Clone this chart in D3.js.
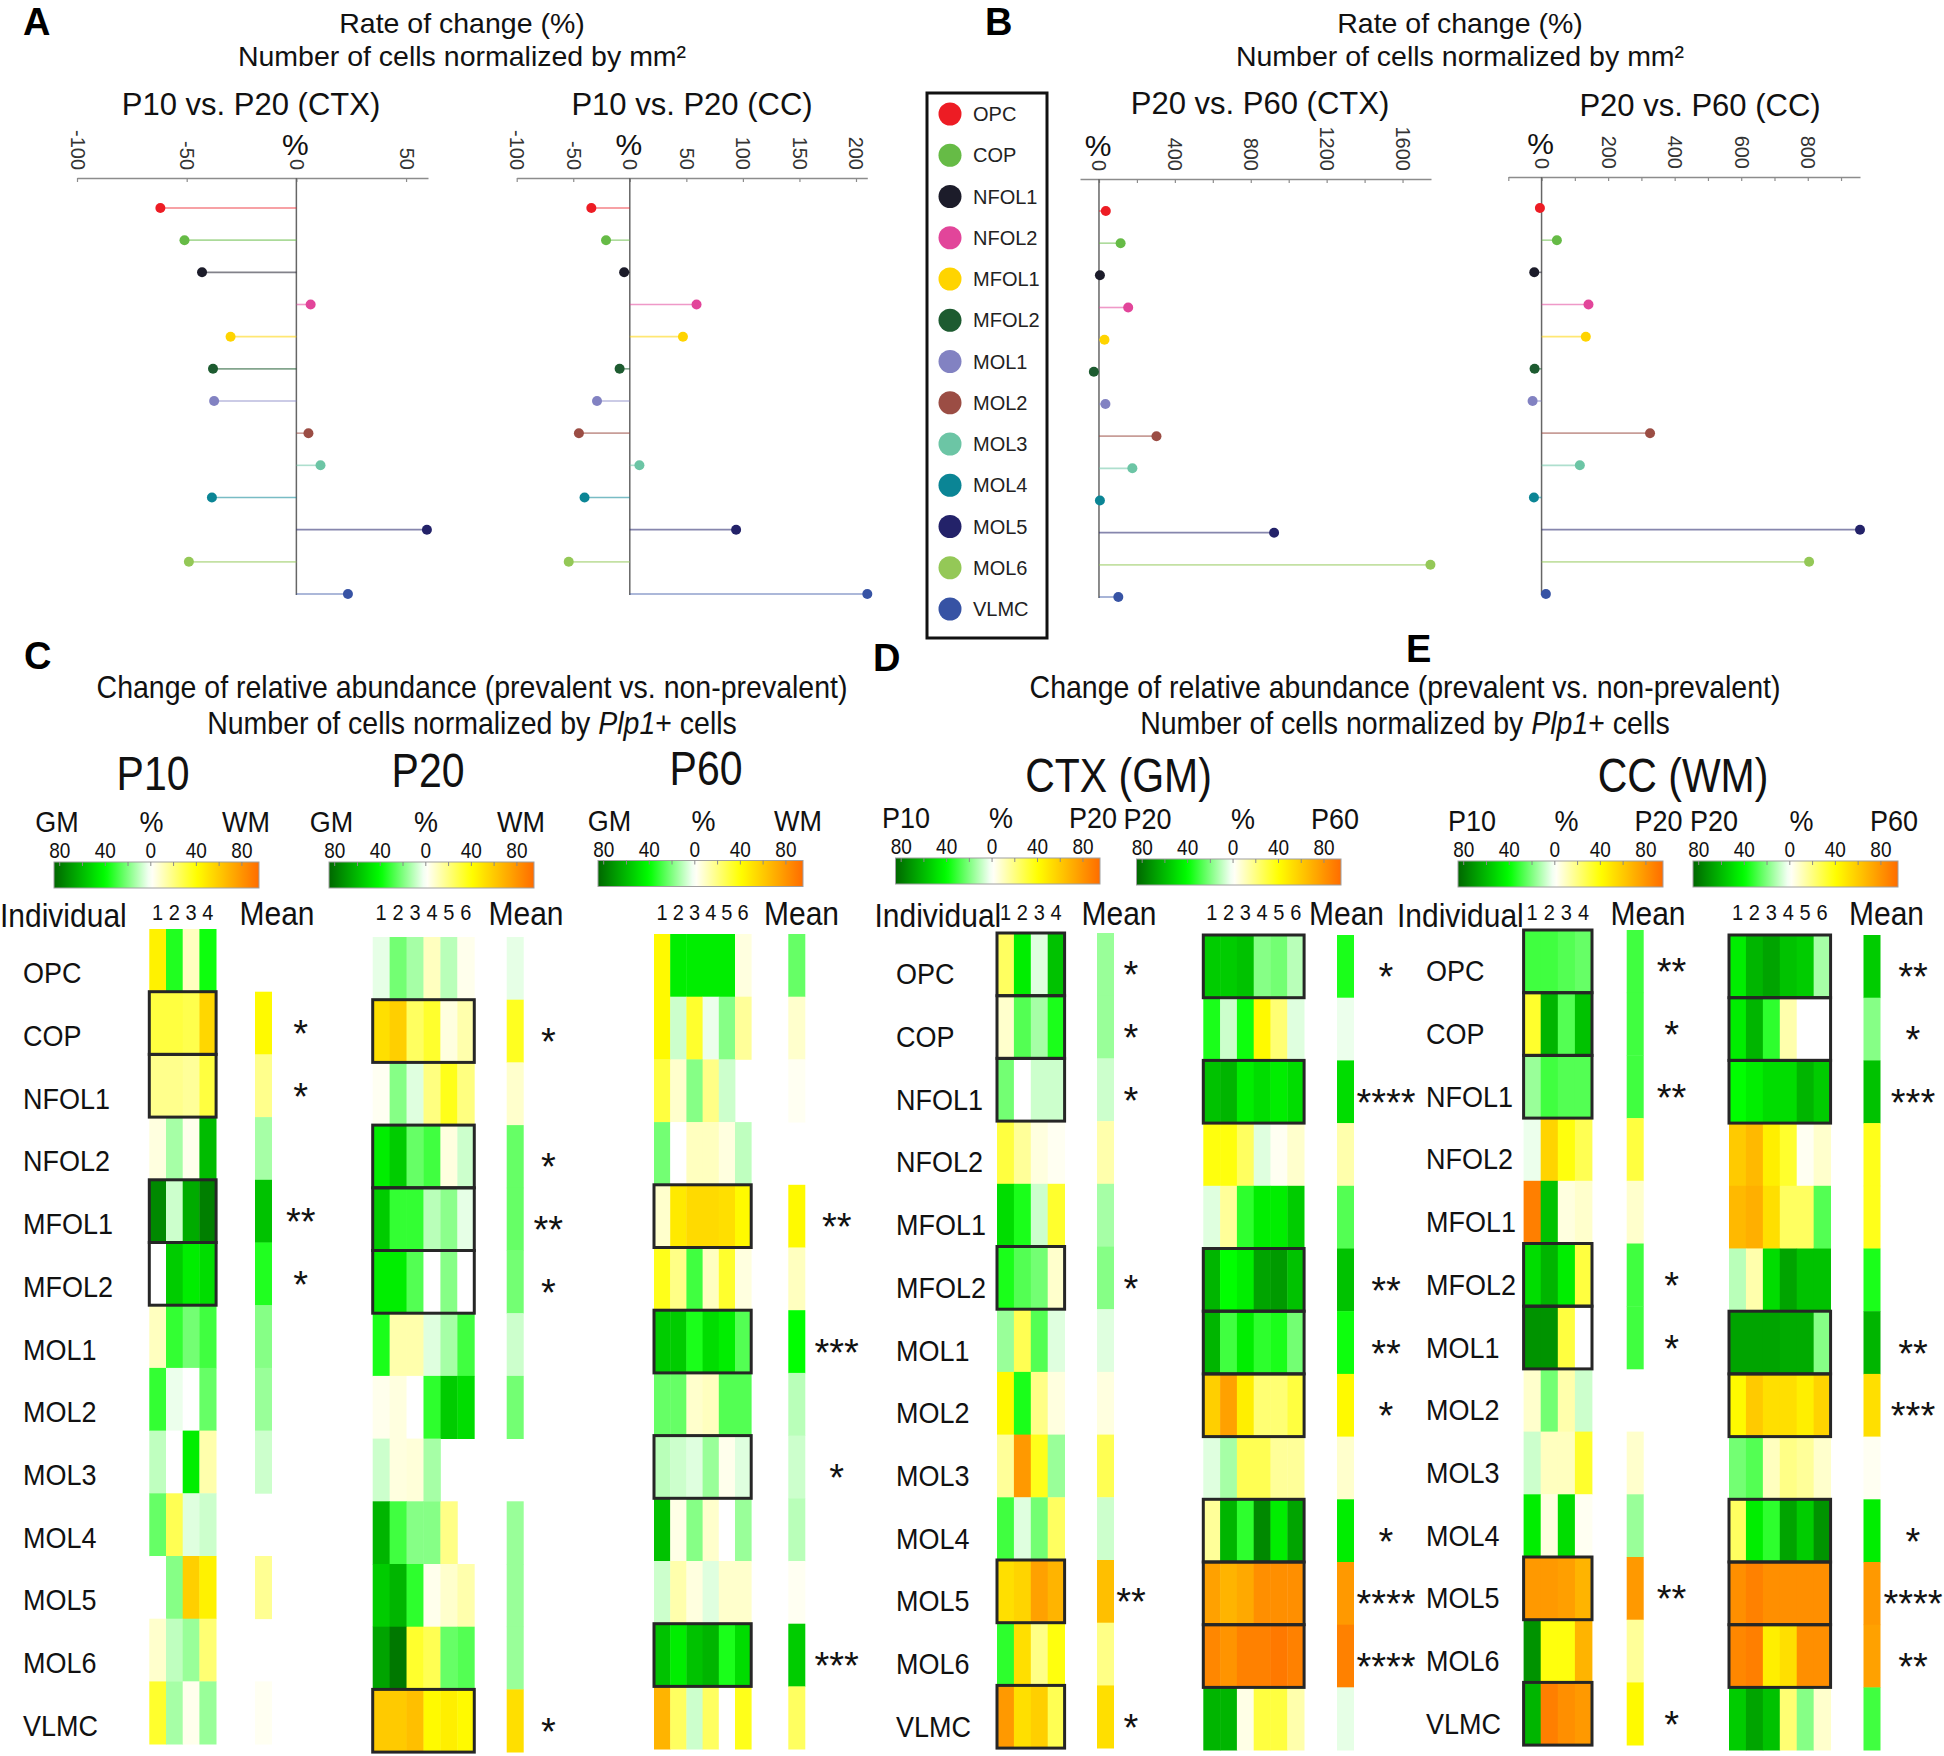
<!DOCTYPE html>
<html>
<head>
<meta charset="utf-8">
<script src="https://cdn.jsdelivr.net/npm/d3@7/dist/d3.min.js"></script>
<style>
html,body{margin:0;padding:0;background:#fff;}
svg{display:block;}
</style>
</head>
<body>
<svg id="chart" width="1944" height="1756"></svg>
<script>
// ================= DATA =================
const cellTypes = ["OPC","COP","NFOL1","NFOL2","MFOL1","MFOL2","MOL1","MOL2","MOL3","MOL4","MOL5","MOL6","VLMC"];
const cellColors = ["#ed1c24","#66bb46","#1c1c2a","#e2459a","#ffd400","#1d5b30","#8282c2","#9b4d44","#6cc5a5","#0b8595","#232269","#94c857","#3753a4"];

// Panel A / B : rate of change (%)
const rateP10P20_CTX = [-62, -51, -43, 6.5, -30, -38, -37.5, 5.5, 11, -38.5, 59.5, -49, 23.5];
const rateP10P20_CC  = [-34, -21, -5, 59, 47, -9, -29, -45, 8.5, -40, 94, -54, 210];
const rateP20P60_CTX = [36, 114, 5, 154, 29, -27, 34, 303, 176, 5, 923, 1747, 102];
const rateP20P60_CC  = [-5, 46, -22, 141, 133, -21, -27, 326, 115, -23, 957, 804, 13];

const ticksA_CTX = [-100, -50, 0, 50];
const ticksA_CC  = [-100, -50, 0, 50, 100, 150, 200];
const ticksB_CTX = [0, 200, 400, 600, 800, 1000, 1200, 1400, 1600];
const labelsB_CTX = [0, 400, 800, 1200, 1600];
const ticksB_CC  = [-100, 0, 100, 200, 300, 400, 500, 600, 700, 800, 900];
const labelsB_CC = [0, 200, 400, 600, 800];

// Panel C : GM vs WM per age (individuals + mean)
const hmC_P10 = [
  [45,-35,10,-38],[30,30,28,55],[18,18,16,30],[5,-14,3,-60],[-75,-8,-65,-78],
  [0,-55,-45,-50],[10,-32,-22,-30],[-32,-3,0,-24],[-10,0,-45,13],[-24,27,-5,-8],
  [0,-19,58,45],[8,-10,-16,22],[33,-14,3,-16]];
const hmC_P10_mean = [null,42,18,-14,-58,-35,-19,-16,-8,null,17,null,2];
const sigC_P10 = ["","*","*","","**","*","","","","","","",""];

const hmC_P20 = [
  [-4,-22,-14,10,-11,3],[52,58,25,33,5,13],[2,-19,-5,20,36,20],[-45,-55,-24,-30,5,-8],
  [-55,-32,-32,-11,-18,-4],[-45,-45,-27,0,-19,0],[-36,13,13,-5,-14,-30],[3,5,0,-33,-55,-50],
  [-8,5,6,-14,null,null],[-62,-30,-19,-19,19,null],[-55,-62,-33,3,8,13],[-67,-80,33,27,-24,-27],
  [60,60,64,42,46,42]];
const hmC_P20_mean = [-4,35,8,-24,-24,-22,-8,-22,null,-16,-16,-16,52];
const sigC_P20 = ["","*","","*","**","*","","","","","","","*"];

const hmC_P60 = [
  [42,-45,-45,-45,-45,5],[42,-8,33,-3,-19,16],[30,8,-19,19,-8,null],[-22,0,10,10,5,-10],
  [8,48,54,54,52,42],[36,19,-30,10,33,5],[-55,-55,-36,-50,-45,-27],[-24,-24,8,10,-27,-27],
  [-11,-8,-5,-16,3,-5],[-58,4,-19,8,0,-16],[-8,13,5,-5,8,8],[-58,-45,-58,-62,-36,-50],
  [68,25,-8,25,0,36]];
const hmC_P60_mean = [-24,8,2,null,42,10,-40,-11,-8,-11,2,-55,25];
const sigC_P60 = ["","","","","**","","***","","*","","","***",""];

// Panel D : CTX (GM) age comparison
const hmD_P10P20 = [
  [25,-45,-5,-58],[8,-27,-14,-36],[-22,0,-8,-8],[30,16,5,2],[-50,-36,-8,33],
  [-36,-27,-22,8],[-16,27,-27,-5],[42,-36,19,5],[16,78,36,-16],[-30,-5,-22,25],
  [52,56,75,68],[-33,52,19,38],[78,52,58,27]];
const hmD_P10P20_mean = [-16,-16,-8,13,-14,-19,-5,5,27,-8,64,19,52];
const sigD_P10P20 = ["*","*","*","","","*","","","","","**","","*"];

const hmD_P20P60 = [
  [-55,-55,-58,-19,-22,-11],[-36,-8,-38,42,22,-5],[-58,-62,-45,-50,-45,-50],[38,38,25,-5,2,8],
  [-5,16,-33,-45,-45,-55],[-62,-40,-45,-67,-70,-58],[-62,-30,-45,-33,-36,-22],[58,75,46,22,22,30],
  [-5,-14,27,27,16,16],[16,-62,-33,-75,-45,-67],[75,68,72,82,82,82],[85,80,87,87,90,87],
  [-62,-62,4,30,30,13]];
const hmD_P20P60_mean = [-36,-3,-50,13,-27,-58,-38,42,8,-45,78,87,-4];
const sigD_P20P60 = ["*","","****","","","**","**","*","","*","****","****",""];

// Panel E : CC (WM) age comparison
const hmE_P10P20 = [
  [-30,-30,-27,-24],[33,-62,-27,-58],[-16,-30,-27,-27],[-3,56,38,27],[88,-58,5,8],
  [-50,-62,-45,30],[-72,-72,30,0],[8,-22,13,-8],[-8,10,10,33],[-45,5,-50,2],
  [78,78,76,68],[-72,38,38,68],[-62,88,82,78]];
const hmE_P10P20_mean = [-30,-30,-30,30,8,-30,-30,null,8,-16,78,16,42];
const sigE_P10P20 = ["**","*","**","","","*","*","","","","**","","*"];

const hmE_P20P60 = [
  [-45,-62,-67,-58,-55,-14],[-45,-62,-33,13,0,0],[-40,-45,-50,-50,-62,-55],[60,66,46,33,2,8],
  [66,70,52,25,25,-27],[-11,13,-50,-67,-58,-58],[-67,-67,-67,-65,-65,-19],[42,60,52,52,46,56],
  [-22,-27,10,19,16,8],[25,-45,-33,-67,-55,-72],[82,87,82,82,82,82],[85,88,46,52,82,82],
  [-55,-67,-58,22,-19,8]];
const hmE_P20P60_mean = [-55,-19,-58,36,36,-36,-62,52,2,-45,78,75,-30];
const sigE_P20P60 = ["**","*","***","","","","**","***","","*","****","**",""];

const cbTickLabels = [-80,-40,0,40,80];

// ================= DRAWING =================
const FONT = '"Liberation Sans", Arial, Helvetica, sans-serif';
const svg = d3.select("#chart");
svg.append("rect").attr("width",1944).attr("height",1756).attr("fill","#fff");

function T(g, x, y, str, size, anchor, o) {
  o = o || {};
  const t = g.append("text")
    .attr("transform", `translate(${x},${y})` + (o.sy && o.sy !== 1 ? ` scale(1,${o.sy})` : ""))
    .attr("font-family", FONT).attr("font-size", size)
    .attr("text-anchor", anchor || "middle")
    .attr("fill", o.fill || "#111");
  if (o.weight) t.attr("font-weight", o.weight);
  if (str != null) t.text(str);
  return t;
}

// ---------- panel letters ----------
[["A",23,35],["B",985,35],["C",24,669],["D",873,671],["E",1406,662]].forEach(d =>
  T(svg, d[1], d[2], d[0], 38, "start", {weight:"bold", fill:"#000"}));

// ---------- A/B titles ----------
[462, 1460].forEach(cx => {
  T(svg, cx, 33, "Rate of change (%)", 28.5, "middle");
  T(svg, cx, 66, "Number of cells normalized by mm²", 28.5, "middle");
});

// ---------- lollipops ----------
const lolliCfg = [
  {vals: rateP10P20_CTX, title:"P10 vs. P20 (CTX)", tx:251, ty:115, domain:[-100,60], range:[77,428], axisY:178, r0:208, r1:594, ticks:ticksA_CTX, labels:ticksA_CTX},
  {vals: rateP10P20_CC, title:"P10 vs. P20 (CC)", tx:692, ty:115, domain:[-100,210], range:[516.7,867.3], axisY:178, r0:208, r1:594, ticks:ticksA_CC, labels:ticksA_CC},
  {vals: rateP20P60_CTX, title:"P20 vs. P60 (CTX)", tx:1260, ty:114, domain:[-100,1750], range:[1080,1431], axisY:179, r0:211, r1:597, ticks:ticksB_CTX, labels:labelsB_CTX},
  {vals: rateP20P60_CC, title:"P20 vs. P60 (CC)", tx:1700, ty:116, domain:[-100,957], range:[1508.3,1860], axisY:177, r0:208, r1:594, ticks:ticksB_CC, labels:labelsB_CC}
];

lolliCfg.forEach(cfg => {
  const g = svg.append("g");
  const x = d3.scaleLinear().domain(cfg.domain).range(cfg.range);
  const y = d3.scalePoint().domain(cellTypes).range([cfg.r0, cfg.r1]);
  const axis = d3.axisBottom(x).tickValues(cfg.ticks).tickSize(4).tickSizeOuter(0)
    .tickFormat(d => cfg.labels.includes(d) ? d : "");
  const ag = g.append("g").attr("transform", `translate(0,${cfg.axisY})`).call(axis)
    .attr("font-family", FONT).attr("font-size", 20);
  ag.select(".domain").attr("stroke", "#8c8c8c").attr("stroke-width", 1.5);
  ag.selectAll(".tick line").attr("stroke", "#8c8c8c").attr("stroke-width", 1.2);
  ag.selectAll(".tick text").attr("transform", "rotate(90)").attr("x", -8).attr("y", 0)
    .attr("dy", "0.35em").style("text-anchor", "end").attr("fill", "#333");
  // zero line
  g.append("line").attr("x1", x(0)).attr("x2", x(0)).attr("y1", cfg.axisY).attr("y2", cfg.r1 + 1)
    .attr("stroke", "#666").attr("stroke-width", 1.5);
  const data = cellTypes.map((ct, i) => ({ct, v: cfg.vals[i], c: cellColors[i]}));
  g.selectAll("line.stem").data(data).join("line").attr("class", "stem")
    .attr("x1", x(0)).attr("x2", d => x(d.v)).attr("y1", d => y(d.ct)).attr("y2", d => y(d.ct))
    .attr("stroke", d => d.c).attr("stroke-opacity", 0.55).attr("stroke-width", 1.6);
  g.selectAll("circle").data(data).join("circle")
    .attr("cx", d => x(d.v)).attr("cy", d => y(d.ct)).attr("r", 5).attr("fill", d => d.c);
  T(g, cfg.tx, cfg.ty, cfg.title, 31, "middle");
  T(g, x(0) - 1, cfg.axisY - 23, "%", 30, "middle");
});

// ---------- legend ----------
{
  const g = svg.append("g");
  g.append("rect").attr("x", 927).attr("y", 93).attr("width", 120).attr("height", 545)
    .attr("fill", "#fff").attr("stroke", "#111").attr("stroke-width", 3);
  const ly = d3.scalePoint().domain(cellTypes).range([114, 609]);
  cellTypes.forEach((ct, i) => {
    g.append("circle").attr("cx", 950).attr("cy", ly(ct)).attr("r", 11.5).attr("fill", cellColors[i]);
    T(g, 973, ly(ct) + 7, ct, 20, "start", {fill:"#222"});
  });
}

// ---------- heatmaps ----------
const heatColor = d3.scaleLinear().domain([-80,-40,0,40,80])
  .range(["#007800","#00ff00","#ffffff","#ffff00","#ff9400"]).interpolate(d3.interpolateRgb);
const RH = 62.7;
const SY = 1.12;

// C-E section titles
[472, 1405].forEach(cx => {
  T(svg, cx, 698, "Change of relative abundance (prevalent vs. non-prevalent)", 28.5, "middle", {sy:1.08});
  const t = T(svg, cx, 734, null, 28.5, "middle", {sy:1.08});
  t.append("tspan").text("Number of cells normalized by ");
  t.append("tspan").attr("font-style", "italic").text("Plp1");
  t.append("tspan").text("+ cells");
});
// block group titles
[["P10",153,790],["P20",428,787],["P60",706,785],["CTX (GM)",1118.5,792],["CC (WM)",1683,792]].forEach(d =>
  T(svg, d[1], d[2], d[0], 41, "middle", {sy:1.18}));

// row labels + "Individual"
[{x:23, top:932, ix:0},{x:896, top:933, ix:874.5},{x:1426, top:930, ix:1397}].forEach(p => {
  const yb = d3.scaleBand().domain(cellTypes).range([p.top, p.top + cellTypes.length * RH]);
  cellTypes.forEach(ct => T(svg, p.x, yb(ct) + RH / 2 + 20, ct, 27, "start", {sy:SY}));
  T(svg, p.ix, 927, "Individual", 30, "start", {sy:SY});
});

const heatBlocks = [
  {values:hmC_P10, means:hmC_P10_mean, sig:sigC_P10, x0:149.3, cw:16.7, top:929, meanX:255, meanLX:277, starX:300.7,
   cb:{x0:54, x1:259, top:862, labels:["GM","%","WM"], lx:[57,151.5,246]}},
  {values:hmC_P20, means:hmC_P20_mean, sig:sigC_P20, x0:372.7, cw:16.93, top:937, meanX:506.7, meanLX:526, starX:548.3,
   cb:{x0:329, x1:534, top:862, labels:["GM","%","WM"], lx:[331.5,426,521]}},
  {values:hmC_P60, means:hmC_P60_mean, sig:sigC_P60, x0:654, cw:16.2, top:934, meanX:788.3, meanLX:801.5, starX:836.7,
   cb:{x0:598, x1:803, top:860.5, labels:["GM","%","WM"], lx:[609.5,703.5,798]}},
  {values:hmD_P10P20, means:hmD_P10P20_mean, sig:sigD_P10P20, x0:997, cw:16.9, top:933, meanX:1097, meanLX:1119, starX:1131,
   cb:{x0:895.5, x1:1100, top:858, labels:["P10","%","P20"], lx:[906,1001,1093]}},
  {values:hmD_P20P60, means:hmD_P20P60_mean, sig:sigD_P20P60, x0:1203.3, cw:16.8, top:935, meanX:1337, meanLX:1346.5, starX:1386,
   cb:{x0:1136.5, x1:1341, top:859, labels:["P20","%","P60"], lx:[1147.5,1243,1335]}},
  {values:hmE_P10P20, means:hmE_P10P20_mean, sig:sigE_P10P20, x0:1523.6, cw:17.1, top:930, meanX:1626.7, meanLX:1648, starX:1671.6,
   cb:{x0:1458, x1:1663, top:861, labels:["P10","%","P20"], lx:[1472,1566.5,1658.5]}},
  {values:hmE_P20P60, means:hmE_P20P60_mean, sig:sigE_P20P60, x0:1729, cw:16.93, top:935, meanX:1863.5, meanLX:1886.5, starX:1913,
   cb:{x0:1693, x1:1898, top:861, labels:["P20","%","P60"], lx:[1714,1801.5,1894]}}
];

const defs = svg.append("defs");
const grad = defs.append("linearGradient").attr("id", "cbgrad").attr("x1", "0%").attr("x2", "100%");
const cbDomain = [-85, 95];
d3.range(0, 1.0001, 0.02).forEach(t => {
  const v = cbDomain[0] + t * (cbDomain[1] - cbDomain[0]);
  grad.append("stop").attr("offset", (t * 100) + "%").attr("stop-color", heatColor(v));
});

heatBlocks.forEach(b => {
  const g = svg.append("g");
  const n = b.values[0].length;
  const xb = d3.scaleBand().domain(d3.range(n)).range([b.x0, b.x0 + n * b.cw]);
  const yb = d3.scaleBand().domain(cellTypes).range([b.top, b.top + cellTypes.length * RH]);
  const flat = [];
  b.values.forEach((row, i) => row.forEach((v, j) => { if (v != null) flat.push({r: cellTypes[i], c: j, v}); }));
  g.selectAll("rect.cell").data(flat).join("rect").attr("class", "cell")
    .attr("x", d => xb(d.c)).attr("y", d => yb(d.r))
    .attr("width", xb.bandwidth() + 0.4).attr("height", yb.bandwidth() + 0.4)
    .attr("fill", d => heatColor(d.v));
  const means = cellTypes.map((ct, i) => ({r: ct, v: b.means[i]})).filter(d => d.v != null);
  g.selectAll("rect.mean").data(means).join("rect").attr("class", "mean")
    .attr("x", b.meanX).attr("y", d => yb(d.r)).attr("width", 17).attr("height", yb.bandwidth() + 0.4)
    .attr("fill", d => heatColor(d.v));
  const sigRows = cellTypes.map((ct, i) => ({r: ct, s: b.sig[i]})).filter(d => d.s);
  g.selectAll("rect.box").data(sigRows).join("rect").attr("class", "box")
    .attr("x", b.x0).attr("y", d => yb(d.r)).attr("width", n * b.cw).attr("height", yb.bandwidth())
    .attr("fill", "none").attr("stroke", "#262626").attr("stroke-width", 3);
  sigRows.forEach(d => T(g, b.starX, yb(d.r) + RH / 2 + 24, d.s, 38, "middle", {fill:"#111"}));
  // column headers
  d3.range(n).forEach(j => T(g, xb(j) + b.cw / 2, 920, String(j + 1), 20, "middle", {sy:SY}));
  T(g, b.meanLX, 925, "Mean", 30, "middle", {sy:SY});
  // colorbar
  const cb = b.cb;
  const cx = d3.scaleLinear().domain(cbDomain).range([cb.x0, cb.x1]);
  g.append("rect").attr("x", cb.x0).attr("y", cb.top).attr("width", cb.x1 - cb.x0).attr("height", 26)
    .attr("fill", "url(#cbgrad)").attr("stroke", "#a0a0a0").attr("stroke-width", 1);
  d3.range(-80, 81, 20).forEach(v => g.append("line").attr("x1", cx(v)).attr("x2", cx(v))
    .attr("y1", cb.top).attr("y2", cb.top + 4).attr("stroke", "#8a8a8a").attr("stroke-width", 1));
  cbTickLabels.forEach(v => T(g, cx(v), cb.top - 4, String(Math.abs(v)), 19, "middle", {sy:SY}));
  cb.labels.forEach((lab, k) => T(g, cb.lx[k], cb.top - 30, lab, 27, "middle", {sy:SY}));
});
</script>
</body>
</html>
